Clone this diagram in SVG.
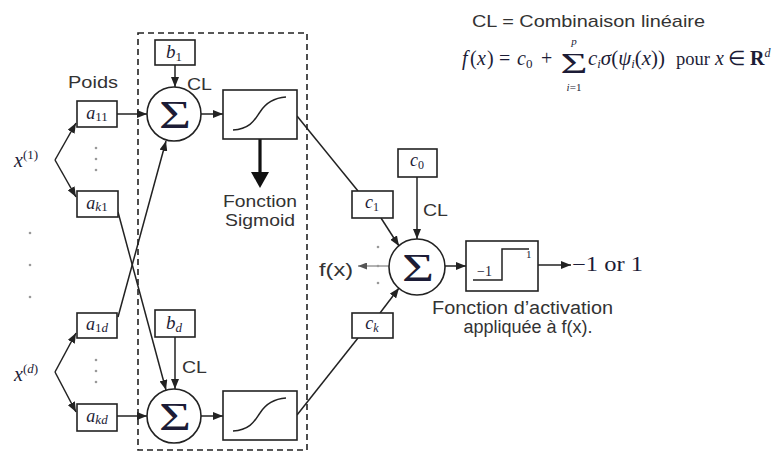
<svg xmlns="http://www.w3.org/2000/svg" width="778" height="452" viewBox="0 0 778 452">
<style>
.bx{fill:#fff;stroke:#222;stroke-width:1.6}
.ln{fill:none;stroke:#222;stroke-width:1.5}
.ar{fill:none;stroke:#222;stroke-width:1.5;marker-end:url(#ah)}
.sg{fill:none;stroke:#222;stroke-width:1.5}
.s{font-family:"Liberation Sans",Arial,sans-serif;fill:#333}
.m{font-family:"Liberation Serif","Times New Roman",serif;fill:#1c1c36}
.i{font-style:italic}
.sig{font-family:"Liberation Serif","Times New Roman",serif;font-size:40px;fill:#1c1c36}
.dot{fill:#999}
</style>
<defs>
<marker id="ah" markerUnits="userSpaceOnUse" markerWidth="10" markerHeight="8" refX="10" refY="4" orient="auto">
<path d="M0,0 L10,4 L0,8 z" fill="#222"/>
</marker>
<marker id="ahg" markerUnits="userSpaceOnUse" markerWidth="9" markerHeight="7" refX="9" refY="3.5" orient="auto">
<path d="M0,0 L9,3.5 L0,7 z" fill="#555"/>
</marker>
</defs>

<!-- header texts -->
<text class="s" x="472" y="27" font-size="17" fill="#444" textLength="233" lengthAdjust="spacingAndGlyphs">CL = Combinaison linéaire</text>
<g id="formula" class="m" font-size="20">
<text x="462" y="65"><tspan class="i">f</tspan><tspan x="470">(</tspan><tspan class="i" x="477">x</tspan><tspan x="487">)</tspan><tspan x="499">=</tspan><tspan class="i" x="517">c</tspan><tspan x="526" dy="3" font-size="13">0</tspan><tspan x="541" dy="-3">+</tspan></text>
<text x="574" y="73" text-anchor="middle" font-size="30" textLength="27" lengthAdjust="spacingAndGlyphs">Σ</text>
<text x="574" y="45" text-anchor="middle" font-size="11" class="i">p</text>
<text x="574" y="91" text-anchor="middle" font-size="11"><tspan class="i">i</tspan>=1</text>
<text x="588" y="65" textLength="77" lengthAdjust="spacingAndGlyphs"><tspan class="i">c</tspan><tspan font-size="12" dy="3" class="i">i</tspan><tspan class="i" dy="-3">σ</tspan>(<tspan class="i">ψ</tspan><tspan font-size="12" dy="3" class="i">i</tspan><tspan dy="-3">(</tspan><tspan class="i">x</tspan>))</text>
<text x="676" y="65" font-size="18" textLength="34" lengthAdjust="spacingAndGlyphs">pour</text>
<text x="715" y="65" class="i">x</text>
<text x="728" y="65">∈</text>
<text x="750" y="65"><tspan font-weight="bold">R</tspan><tspan font-size="12" dy="-8" class="i">d</tspan></text>
</g>

<!-- dashed box -->
<rect id="hidden-layer" x="138" y="33" width="169" height="417" fill="none" stroke="#222" stroke-width="1.6" stroke-dasharray="6,4"/>

<!-- connectors -->
<g id="connectors">
<path class="ar" d="M55,160 L76,123"/>
<path class="ar" d="M55,160 L76,197"/>
<path class="ar" d="M55,372 L76,333"/>
<path class="ar" d="M55,372 L76,412"/>
<path class="ar" d="M117,114 L147,114"/>
<path class="ar" d="M117,416 L147,416"/>
<path class="ar" d="M118,212 L166,390"/>
<path class="ar" d="M118,317 L166,141"/>
<path class="ar" d="M175,65 L175,87"/>
<path class="ar" d="M175,337 L175,389"/>
<path class="ar" d="M201,114 L223,114"/>
<path class="ar" d="M201,416 L223,416"/>
<path class="ln" d="M297,116 L358,191"/>
<path class="ar" d="M381,218 L399,246"/>
<path class="ln" d="M297,415 L358,338"/>
<path class="ar" d="M380,313 L399,288"/>
<path class="ar" d="M417,177 L417,239"/>
<path d="M390,266 L358,266" fill="none" stroke="#666" stroke-width="1" marker-end="url(#ahg)"/>
<path class="ar" d="M444,266 L466,266"/>
<path class="ar" d="M538,265 L571,265"/>
<path d="M260,139 L260,174" stroke="#111" stroke-width="3.2" fill="none"/>
<path d="M251,172 L269,172 L260,188 z" fill="#111"/>
</g>

<!-- inputs -->
<g id="x1"><text class="m" x="14" y="167" font-size="20"><tspan class="i">x</tspan><tspan font-size="13" dy="-8">(1)</tspan></text></g>
<g id="xd"><text class="m" x="14" y="381" font-size="20"><tspan class="i">x</tspan><tspan font-size="13" dy="-8">(</tspan><tspan font-size="13" class="i">d</tspan><tspan font-size="13">)</tspan></text></g>
<g id="dots">
<circle class="dot" cx="30" cy="233" r="1.3"/><circle class="dot" cx="30" cy="265" r="1.3"/><circle class="dot" cx="30" cy="297" r="1.3"/>
<circle class="dot" cx="96" cy="148" r="1.3"/><circle class="dot" cx="96" cy="159" r="1.3"/><circle class="dot" cx="96" cy="170" r="1.3"/>
<circle class="dot" cx="96" cy="360" r="1.3"/><circle class="dot" cx="96" cy="371" r="1.3"/><circle class="dot" cx="96" cy="382" r="1.3"/>
<circle class="dot" cx="378" cy="247" r="1.3"/><circle class="dot" cx="378" cy="266" r="1.3"/><circle class="dot" cx="378" cy="283" r="1.3"/>
</g>
<text class="s" x="68" y="88" font-size="17" textLength="50" lengthAdjust="spacingAndGlyphs">Poids</text>

<!-- weights -->
<g id="a11"><rect class="bx" x="77" y="101" width="40" height="26"/><text class="m" x="97" y="119" font-size="18" text-anchor="middle"><tspan class="i">a</tspan><tspan font-size="13" dy="2">11</tspan></text></g>
<g id="ak1"><rect class="bx" x="77" y="191" width="41" height="26"/><text class="m" x="97" y="209" font-size="18" text-anchor="middle"><tspan class="i">a</tspan><tspan font-size="13" dy="2" class="i">k</tspan><tspan font-size="13">1</tspan></text></g>
<g id="a1d"><rect class="bx" x="77" y="313" width="40" height="25"/><text class="m" x="97" y="330" font-size="18" text-anchor="middle"><tspan class="i">a</tspan><tspan font-size="13" dy="2">1</tspan><tspan font-size="13" class="i">d</tspan></text></g>
<g id="akd"><rect class="bx" x="77" y="404" width="40" height="27"/><text class="m" x="97" y="422" font-size="18" text-anchor="middle"><tspan class="i">a</tspan><tspan font-size="13" dy="2" class="i">kd</tspan></text></g>

<!-- biases -->
<g id="b1"><rect class="bx" x="155" y="40" width="40" height="25"/><text class="m" x="174" y="58" font-size="19" text-anchor="middle"><tspan class="i">b</tspan><tspan font-size="13" dy="3">1</tspan></text></g>
<g id="bd"><rect class="bx" x="155" y="310" width="40" height="27"/><text class="m" x="174" y="329" font-size="19" text-anchor="middle"><tspan class="i">b</tspan><tspan font-size="13" dy="3" class="i">d</tspan></text></g>
<text class="s" x="187" y="90" font-size="17" textLength="25" lengthAdjust="spacingAndGlyphs">CL</text>
<text class="s" x="182" y="373" font-size="17" textLength="25" lengthAdjust="spacingAndGlyphs">CL</text>

<!-- sums -->
<g id="sum1"><circle class="bx" cx="174" cy="114" r="27"/><text class="sig" x="175" y="128" text-anchor="middle" textLength="32" lengthAdjust="spacingAndGlyphs">Σ</text></g>
<g id="sumd"><circle class="bx" cx="174" cy="416" r="27"/><text class="sig" x="175" y="430" text-anchor="middle" textLength="32" lengthAdjust="spacingAndGlyphs">Σ</text></g>

<!-- sigmoids -->
<g id="sig1"><rect class="bx" x="223" y="90" width="74" height="49"/><path class="sg" d="M233,130 C252,129 256,117 260,112 C265,104 272,98 286,97"/></g>
<g id="sigd"><rect class="bx" x="223" y="391" width="74" height="49"/><path class="sg" d="M233,431 C252,430 256,418 260,413 C265,405 272,399 286,398"/></g>
<text class="s" x="223" y="207" font-size="17" textLength="74" lengthAdjust="spacingAndGlyphs">Fonction</text>
<text class="s" x="225" y="226" font-size="17" textLength="70" lengthAdjust="spacingAndGlyphs">Sigmoid</text>

<!-- output layer -->
<g id="c1"><rect class="bx" x="352" y="191" width="41" height="27"/><text class="m" x="372" y="208" font-size="18" text-anchor="middle"><tspan class="i">c</tspan><tspan font-size="12" dy="3">1</tspan></text></g>
<g id="ck"><rect class="bx" x="352" y="313" width="41" height="25"/><text class="m" x="372" y="329" font-size="18" text-anchor="middle"><tspan class="i">c</tspan><tspan font-size="12" dy="3" class="i">k</tspan></text></g>
<g id="c0"><rect class="bx" x="398" y="149" width="39" height="28"/><text class="m" x="417" y="166" font-size="18" text-anchor="middle"><tspan class="i">c</tspan><tspan font-size="12" dy="3">0</tspan></text></g>
<text class="s" x="423" y="216" font-size="17" textLength="25" lengthAdjust="spacingAndGlyphs">CL</text>
<g id="sumout"><circle class="bx" cx="417" cy="267" r="28"/><text class="sig" x="418" y="281" text-anchor="middle" textLength="32" lengthAdjust="spacingAndGlyphs">Σ</text></g>
<text class="s" x="319" y="276" font-size="18" fill="#222" textLength="34" lengthAdjust="spacingAndGlyphs">f(x)</text>

<g id="step"><rect class="bx" x="466" y="241" width="72" height="50"/><path class="sg" d="M473,280 H502 V249 H529"/><text class="m" x="477" y="276" font-size="14">−1</text><text class="m" x="526" y="258" font-size="11">1</text></g>
<text class="m" x="572" y="271" font-size="20" textLength="71" lengthAdjust="spacingAndGlyphs">−1 or 1</text>
<text class="s" x="432" y="314" font-size="18" textLength="181" lengthAdjust="spacingAndGlyphs">Fonction d’activation</text>
<text class="s" x="528" y="333" font-size="18" text-anchor="middle">appliquée à f(x).</text>
</svg>
